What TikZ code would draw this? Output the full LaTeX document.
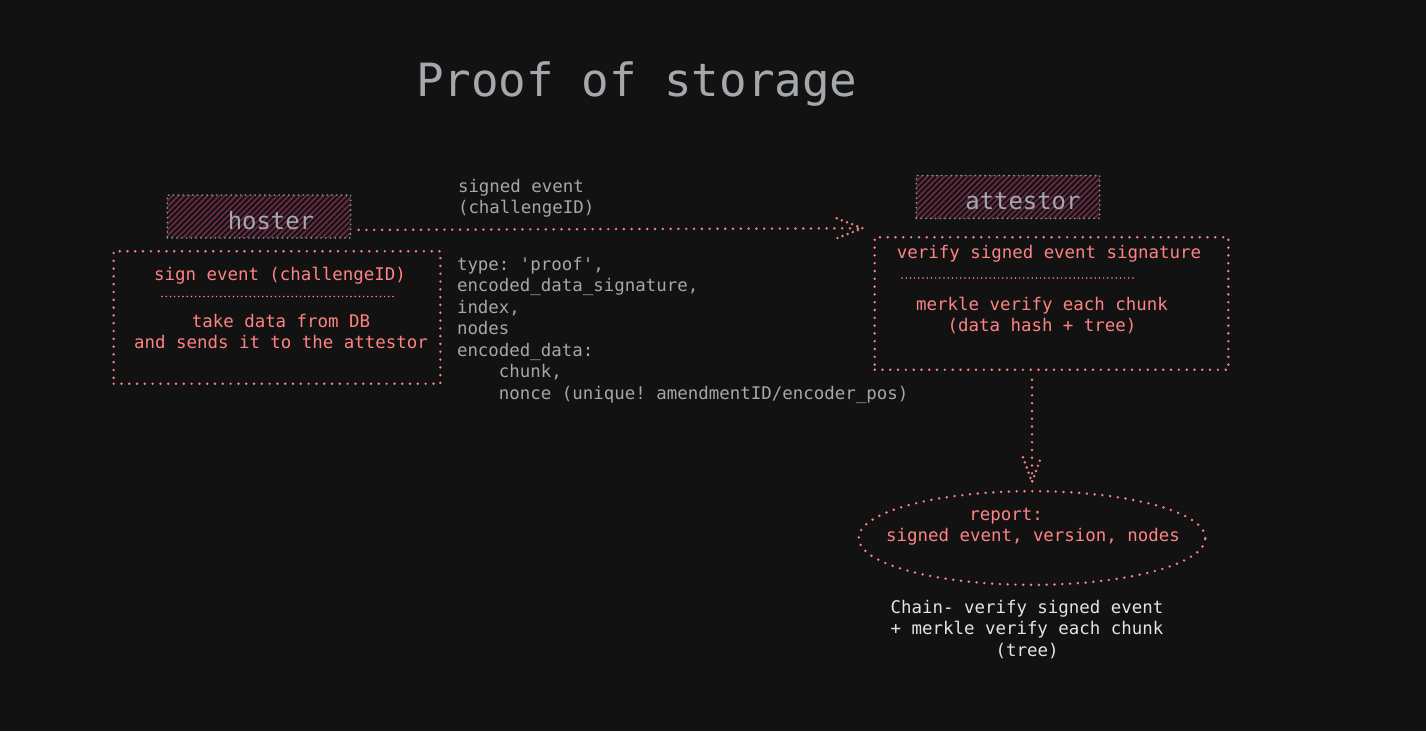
\documentclass[tikz,border=0pt]{standalone}
\usepackage{fontspec}
\setmonofont{DejaVu Sans Mono}
\usetikzlibrary{shapes.geometric}

\definecolor{Backdrop}{HTML}{121212}
\definecolor{Salmon}{HTML}{FF8383}
\definecolor{Ash}{HTML}{A4A7AC}
\definecolor{Chalk}{HTML}{E4E4E4}
\definecolor{Wine}{RGB}{104,42,66}
\definecolor{Smoke}{HTML}{8E8E8E}

\newcommand{\bodyfont}{\ttfamily\fontsize{17.5}{21.5}\selectfont}
\newcommand{\drawbarb}[3]{ % Parameters: tip, first barb end, second barb end
  \draw[dotline,dash pattern=on 0bp off 5.5bp] (#1) ++(#2) -- (#1) -- ++(#3);
}

\begin{document}
\begin{tikzpicture}[x=1bp,y=-1bp,
  every node/.style={inner sep=0pt,outer sep=0pt},
  dotline/.style={draw=Salmon,line width=2.7bp,line cap=round,dash pattern=on 0bp off 7.8bp},
  sepline/.style={draw=Salmon,line width=1.7bp,line cap=round,dash pattern=on 0bp off 4.2bp},
  stepbox/.style={dotline,rectangle},
  actor/.style={rectangle,draw=Smoke,line width=1.9bp,line cap=round,dash pattern=on 0bp off 4.8bp,
    path picture={\foreach \k in {0,...,44}
      \draw[Wine,line width=1.8bp,solid] ([xshift=\k*5.8bp-60bp]path picture bounding box.south west) -- ++(60,-60);},
    minimum width=184,minimum height=43},
  actorlabel/.style={text=Ash,font=\ttfamily\fontsize{24}{28}\selectfont},
  redtext/.style={text=Salmon,font=\bodyfont},
  greytext/.style={text=Ash,font=\bodyfont},
  whitetext/.style={text=Chalk,font=\bodyfont}]

  \fill[Backdrop] (0,0) rectangle (1426,731);

  % title
  \node[anchor=base west,text=Ash,font=\ttfamily\fontsize{46}{54}\selectfont] (title) at (416,97) {Proof of storage};

  % hoster side
  \node[actor,label={[actorlabel,xshift=12,yshift=-4]center:hoster}] (hoster) at (259,216.5) {};
  \node[stepbox,minimum width=328,minimum height=133] (hostjob) at (277,317.5) {};
  \node[redtext,anchor=base] (signtxt) at (280,280) {sign event (challengeID)};
  \draw[sepline] (162,296.5) -- (395,296.5);
  \node[redtext,anchor=base,align=center] (taketxt) at (281,348.5) {take data from DB\\and sends it to the attestor};

  % message (base = last line)
  \node[greytext,anchor=base west,align=left] (sendnote) at (458,213.5) {signed event\\(challengeID)};
  \node[greytext,anchor=base west,align=left] (payload) at (457,399)
    {type: 'proof',\\encoded\_data\_signature,\\index,\\nodes\\encoded\_data:\\\phantom{xxxx}chunk,\\\phantom{xxxx}nonce (unique! amendmentID/encoder\_pos)};

  % attestor side
  \node[actor,label={[actorlabel,xshift=15,yshift=-4]center:attestor}] (attestor) at (1008,197) {};
  \node[stepbox,minimum width=355,minimum height=133] (attjob) at (1051.5,303.5) {};
  \node[redtext,anchor=base] (verifytxt) at (1049,258) {verify signed event signature};
  \draw[sepline] (902,278) -- (1137,278);
  \node[redtext,anchor=base,align=center] (merkletxt) at (1042,331.5) {merkle verify each chunk\\(data hash + tree)};

  % report
  \node[ellipse,dotline,minimum width=348,minimum height=94] (report) at (1032,538) {};
  \node[redtext,anchor=base] (reporttxt) at (1006,520) {report:};
  \node[redtext,anchor=base] (fieldstxt) at (1033,541) {signed event, version, nodes};
  \node[whitetext,anchor=base,align=center] (chainnote) at (1027,656) {Chain- verify signed event\\+ merkle verify each chunk\\(tree)};

  % connectors
  \coordinate (sendfrom) at ([xshift=8,yshift=-13.5]hoster.east);
  \coordinate (sendto) at ([xshift=-12,yshift=9]attjob.north west);
  \draw[dotline] (sendfrom) -- (sendto);
  \drawbarb{sendto}{-26,-10}{-26,10}

  \coordinate (checkfrom) at (report.north |- attjob.south);
  \coordinate (checkto) at ([yshift=9]report.north);
  \draw[dotline,shorten <=10bp] (checkfrom) -- (checkto);
  \drawbarb{checkto}{-9,-25}{9,-25}
\end{tikzpicture}
\end{document}
